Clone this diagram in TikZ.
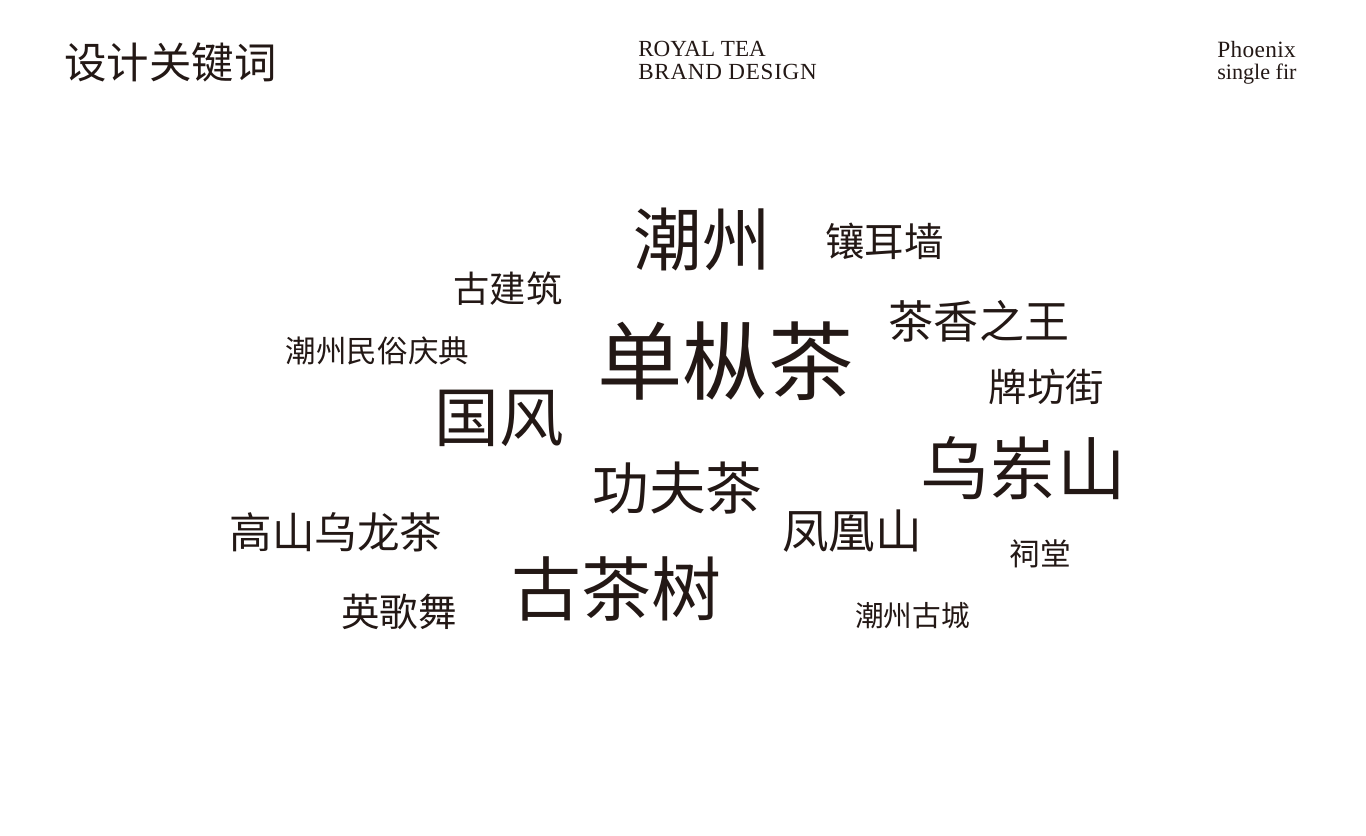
\documentclass[tikz,border=0pt]{standalone}
\usepackage{fontspec}
\setmainfont{Liberation Serif}
\newfontfamily\cjk{Noto Sans CJK SC}
\usepackage{tikz}
\definecolor{ink}{RGB}{35,24,21}
\newcommand{\Kw}[1]{\cjk\fontsize{#1}{#1}\selectfont}
\tikzstyle{keyword}=[inner sep=0pt,text=ink,font=\Kw{#1}]
\tikzstyle{latin}=[inner sep=0pt,text=ink,anchor=base west,font=\fontsize{#1}{#1}\selectfont]

\begin{document}
\begin{tikzpicture}[x=0.75pt,y=-0.75pt]
  \useasboundingbox (0,0) rectangle (1366,835);
  % header
  \node(title)[keyword=31.8] at (170.5,62){设计关键词};
  \node(brandA)[latin=17.3] at (638,56){ROYAL TEA};
  \node(brandB)[latin=17.3] at (638,79){\addfontfeature{LetterSpace=3.2}BRAND DESIGN};
  \node(teaA)[latin=17.5] at (1217,57){\addfontfeature{LetterSpace=1.5}Phoenix};
  \node(teaB)[latin=16.6] at (1217,79){single fir};
  % keywords
  \node(chaozhou)[keyword=51.5] at (702,240){潮州};
  \node(wall)[keyword=29.6] at (884.5,241){镶耳墙};
  \node(oldhouse)[keyword=27.2] at (508,289){古建筑};
  \node(king)[keyword=33.8] at (979,321){茶香之王};
  \node(festival)[keyword=22.9] at (377.5,351){潮州民俗庆典};
  \node(dancong)[keyword=64] at (725.5,361){单枞茶};
  \node(arch)[keyword=28.8] at (1046.5,387){牌坊街};
  \node(guofeng)[keyword=48.5] at (499,418){国风};
  \node(wudong)[keyword=51.5] at (1023,468){乌岽山};
  \node(gongfu)[keyword=42.5] at (677.5,488){功夫茶};
  \node(oolong)[keyword=31.9] at (336,532){高山乌龙茶};
  \node(phoenix)[keyword=35] at (852,531){凤凰山};
  \node(shrine)[keyword=23] at (1040,554){祠堂};
  \node(oldtree)[keyword=52.5] at (616,589){古茶树};
  \node(dance)[keyword=28.9] at (399,612){英歌舞};
  \node(oldcity)[keyword=21.5] at (912.5,616){潮州古城};
\end{tikzpicture}
\end{document}
